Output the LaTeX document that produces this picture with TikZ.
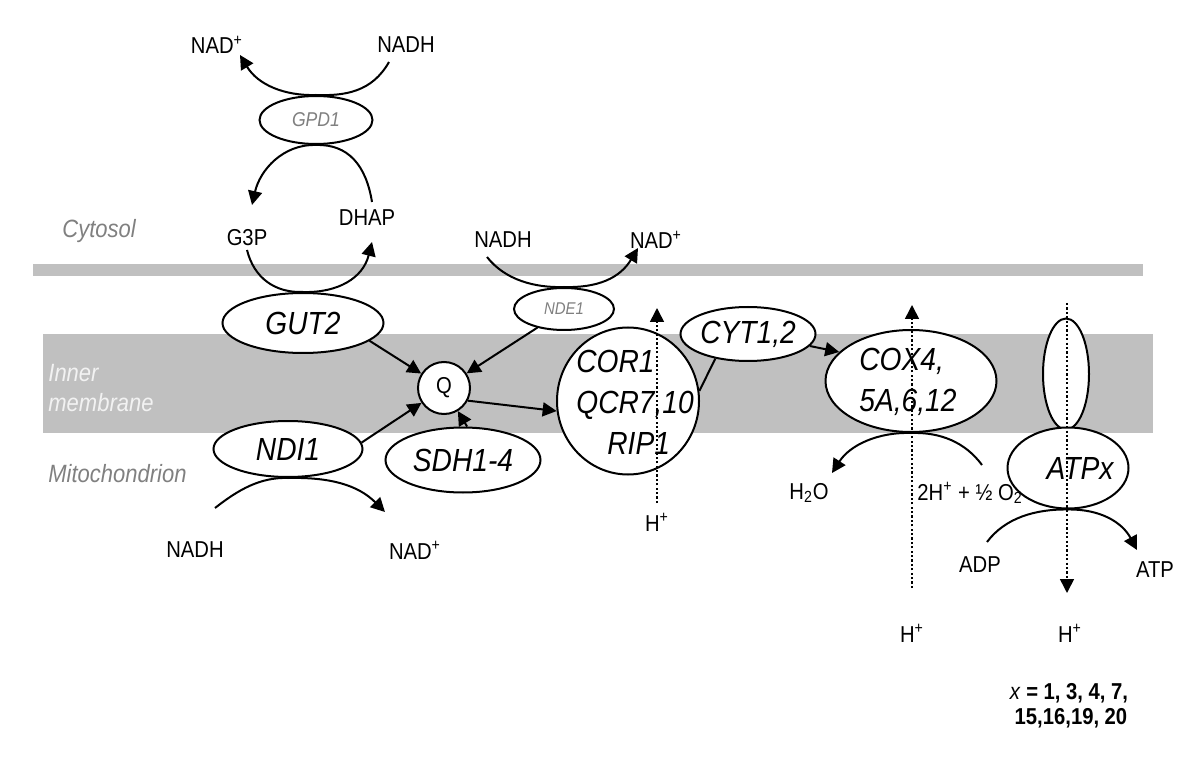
\documentclass[tikz,border=0pt]{standalone}
\usepackage{fontspec}
\setmainfont{Liberation Sans}[FakeStretch=0.88]
\usetikzlibrary{shapes.geometric,arrows.meta}
\definecolor{memb}{HTML}{C0C0C0}
\definecolor{labgray}{HTML}{808080}
\definecolor{lightlab}{HTML}{F2F2F2}
\begin{document}
\begin{tikzpicture}[x=0.5pt,y=-0.5pt,
  ell/.style={draw,ellipse,line width=1pt,fill=white,inner sep=0pt},
  big/.style={font=\fontsize{16}{20.5}\selectfont\itshape,align=center},
  bigtext/.style={font=\fontsize{16}{20.5}\selectfont\itshape,inner sep=0pt},
  lab/.style={font=\fontsize{11.5}{13}\selectfont,inner sep=0pt},
  side/.style={font=\fontsize{12.5}{15}\selectfont\itshape,inner sep=0pt,anchor=west,align=left},
  conn/.style={line width=1pt,-{Triangle[length=7pt,width=7pt]}},
  plain/.style={line width=1pt},
  proton/.style={line width=0.8pt,dash pattern=on 1.1pt off 1.1pt,-{Triangle[length=7pt,width=7pt]}}
]
\useasboundingbox (0,0) rectangle (1200,775);
% membranes
\fill[memb] (33,264) rectangle (1143,276);
\fill[memb] (43,334) rectangle (1153,433);
% side labels
\node[side,text=labgray] (cytosol) at (62,231) {Cytosol};
\node[side,text=lightlab] (inner) at (48,388) {Inner\\membrane};
\node[side,text=labgray] (mito) at (48,474) {Mitochondrion};

% enzymes
\node[ell,minimum width=113pt*0.5,minimum height=48pt*0.5,font=\fontsize{10}{12}\selectfont\itshape,text=labgray] (gpd) at (316,120) {GPD1};
\node[ell,minimum width=161pt*0.5,minimum height=60pt*0.5,big] (gut) at (303,323) {GUT2};
\node[ell,minimum width=100pt*0.5,minimum height=42pt*0.5,font=\fontsize{8.5}{10}\selectfont\itshape,text=labgray] (nde) at (564,309) {NDE1};
\node[ell,circle,minimum size=52pt*0.5,lab,font=\fontsize{11.5}{13}\selectfont] (q) at (444,388) {Q};
\node[ell,minimum width=149pt*0.5,minimum height=56pt*0.5,big] (ndi) at (288,449) {NDI1};
\node[ell,minimum width=155pt*0.5,minimum height=65pt*0.5,big] (sdh) at (463,460) {SDH1-4};
\node[ell,minimum width=142pt*0.5,minimum height=147pt*0.5] (cor) at (628,401) {};
\node[bigtext,anchor=west,align=left] (cortext) at (576,402) {COR1\\QCR7,10\\\hspace*{15.5pt}RIP1};
\node[ell,minimum width=128pt*0.5,minimum height=54pt*0.5,big] (cyt) at (748,334) {CYT1,2};
\node[ell,minimum width=171pt*0.5,minimum height=102pt*0.5] (cox) at (911,381) {};
\node[bigtext,anchor=west,align=left] (coxtext) at (859,382) {COX4,\\5A,6,12};
\node[ell,minimum width=46pt*0.5,minimum height=111pt*0.5] (stalk) at (1066,374) {};
\node[ell,minimum width=121pt*0.5,minimum height=81pt*0.5] (atp) at (1068,468) {};
\node[bigtext] (atptext) at (1080,468) {ATPx};

% metabolite labels
\node[lab] (nadp1) at (217,45) {NAD\textsuperscript{+}};
\node[lab] (nadh1) at (406,45) {NADH};
\node[lab] (g3p) at (247,238) {G3P};
\node[lab] (dhap) at (367,218) {DHAP};
\node[lab] (nadh2) at (503,240) {NADH};
\node[lab] (nadp2) at (656,240) {NAD\textsuperscript{+}};
\node[lab] (nadh3) at (195,550) {NADH};
\node[lab] (nadp3) at (415,550) {NAD\textsuperscript{+}};
\node[lab] (hp1) at (657,522) {H\textsuperscript{+}};
\node[lab] (h2o) at (809,493) {H\textsubscript{2}O};
\node[lab,anchor=west] (o2) at (917,493) {2H\textsuperscript{+} + ½ O\textsubscript{2}};
\node[lab] (hp2) at (912,633) {H\textsuperscript{+}};
\node[lab] (adp) at (980,565) {ADP};
\node[lab] (atpl) at (1155,570) {ATP};
\node[lab] (hp3) at (1070,633) {H\textsuperscript{+}};
\node[lab,font=\fontsize{11.5}{13}\selectfont\bfseries] (xs1) at (1069,693) {\textit{\mdseries x} = 1, 3, 4, 7,};
\node[lab,font=\fontsize{11.5}{13}\selectfont\bfseries] (xs2) at (1071,718) {15,16,19, 20};

% curve end points
\coordinate (g1s) at (389,62);   \coordinate (g1e) at (240,55);
\coordinate (g2s) at (372,202);  \coordinate (g2e) at (252,205);
\coordinate (g3s) at (247,250);  \coordinate (g3e) at (372,242);
\coordinate (d1s) at (487,257);  \coordinate (d1e) at (638,248);
\coordinate (n1s) at (215,508);  \coordinate (n1e) at (385,512);
\coordinate (c1s) at (982,465);  \coordinate (c1e) at (832,473);
\coordinate (a1s) at (987,542);  \coordinate (a1e) at (1137,550);
\coordinate (p1s) at (657,503);  \coordinate (p1e) at (657,308);
\coordinate (p2s) at (912,588);  \coordinate (p2e) at (912,305);
\coordinate (p3s) at (1067,303); \coordinate (p3e) at (1067,593);

% curved reactions
\draw[conn] (g1s) .. controls (372,92) and (345,96) .. (gpd.north) .. controls (285,96) and (258,85) .. (g1e);
\draw[conn] (g2s) .. controls (366,165) and (348,144) .. (gpd.south) .. controls (283,144) and (260,170) .. (g2e);
\draw[conn] (g3s) .. controls (254,278) and (275,293) .. (gut.north) .. controls (338,293) and (363,278) .. (g3e);
\draw[conn] (d1s) .. controls (505,280) and (535,288) .. (nde.north) .. controls (598,288) and (620,278) .. (d1e);
\draw[conn] (n1s) .. controls (238,490) and (260,477) .. (ndi.south) .. controls (330,477) and (358,485) .. (n1e);
\draw[conn] (c1s) .. controls (965,442) and (940,432) .. (cox.south) .. controls (878,432) and (850,445) .. (c1e);
\draw[conn] (a1s) .. controls (1005,518) and (1035,509) .. (atp.south) .. controls (1100,509) and (1122,522) .. (a1e);

% straight connectors
\draw[conn] (gut.-15) -- (q);
\draw[conn] (nde.215) -- (q);
\draw[conn] (ndi.5) -- (q);
\draw[conn] (sdh.83) -- (q);
\draw[conn] (q.-28) -- (cor.188);
\draw[plain] (cor.8) -- (cyt.217);
\draw[conn] (cyt.-11) -- (cox.158);

% proton paths
\draw[proton] (p1s) -- (p1e);
\draw[proton] (p2s) -- (p2e);
\draw[proton] (p3s) -- (p3e);
\end{tikzpicture}
\end{document}
